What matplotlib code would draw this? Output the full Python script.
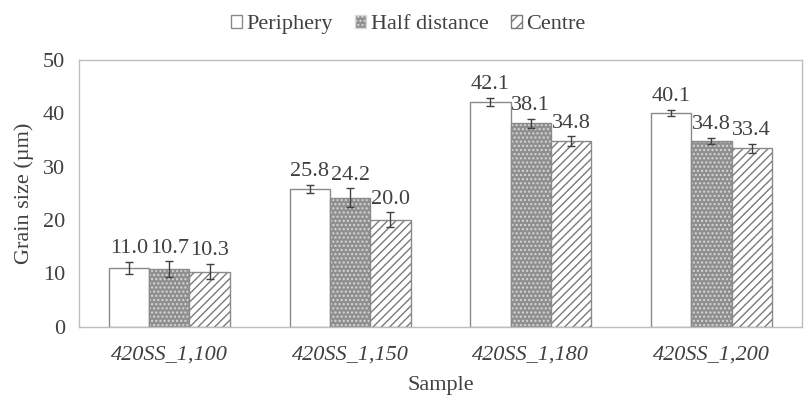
import matplotlib.pyplot as plt
import numpy as np
from matplotlib.patches import Patch

plt.rcParams['font.family'] = ['Liberation Serif', 'DejaVu Serif']

samples = ['420SS_1,100', '420SS_1,150', '420SS_1,180', '420SS_1,200']
periphery = [11.0, 25.8, 42.1, 40.1]
half_distance = [10.7, 24.2, 38.1, 34.8]
centre = [10.3, 20.0, 34.8, 33.4]
err_periphery = [1.1, 0.75, 0.8, 0.55]
err_half = [1.5, 1.7, 0.85, 0.65]
err_centre = [1.4, 1.4, 0.85, 0.85]

txt = '#404040'
edge = '#8a8a8a'

fig = plt.figure(figsize=(8.05, 3.99), dpi=100)
ax = fig.add_axes([0.0981, 0.1817, 0.898, 0.668])

x = np.arange(len(samples))
w = 0.223

# periphery: plain white
ax.bar(x - w, periphery, w, color='white', edgecolor=edge, linewidth=1.0)
# half distance: dotted grey
ax.bar(x, half_distance, w, color='#8f8f8f', edgecolor='#d8d8d8', hatch='....', linewidth=0)
ax.bar(x, half_distance, w, color='none', edgecolor=edge, linewidth=1.0)
# centre: diagonal hatch
ax.bar(x + w, centre, w, color='white', edgecolor='#7a7a7a', hatch='////', linewidth=0)
ax.bar(x + w, centre, w, color='none', edgecolor=edge, linewidth=1.0)

for offs, vals, errs in [(-w, periphery, err_periphery), (0, half_distance, err_half),
                         (w, centre, err_centre)]:
    ax.errorbar(x + offs, vals, yerr=errs, fmt='none', ecolor='#404040',
                elinewidth=1.0, capsize=3, capthick=1.0)
    for xi, v, e in zip(x + offs, vals, errs):
        ax.text(xi, v + e + 0.7, f'{v:.1f}', ha='center', va='bottom',
                fontsize=16, color=txt)

ax.set_xlim(-0.5, 3.5)
ax.set_ylim(0, 50)
ax.set_yticks(range(0, 51, 10))
ax.set_xticks(x)
ax.set_xticklabels(samples, fontstyle='italic')
ax.tick_params(length=0, labelsize=16, colors=txt)
ax.tick_params(axis='y', pad=10)
ax.tick_params(axis='x', pad=14)
for s in ax.spines.values():
    s.set_color('#bdbdbd')
    s.set_linewidth(1.0)

ax.set_xlabel('Sample', fontsize=16, color=txt, labelpad=8)
ax.set_ylabel('Grain size (µm)', fontsize=16, color=txt, labelpad=6)

h1 = Patch(facecolor='white', edgecolor=edge)
h2 = Patch(facecolor='#8f8f8f', edgecolor='#d8d8d8', hatch='....')
h3 = Patch(facecolor='white', edgecolor='#7a7a7a', hatch='///')
fig.legend([h1, h2, h3], ['Periphery', 'Half distance', 'Centre'],
           loc='upper center', bbox_to_anchor=(0.507, 1.012), ncol=3, frameon=False,
           fontsize=16, handlelength=0.5, handleheight=0.5, handletextpad=0.2,
           columnspacing=1.0, labelcolor=txt)

fig.savefig('out.png', dpi=100)
